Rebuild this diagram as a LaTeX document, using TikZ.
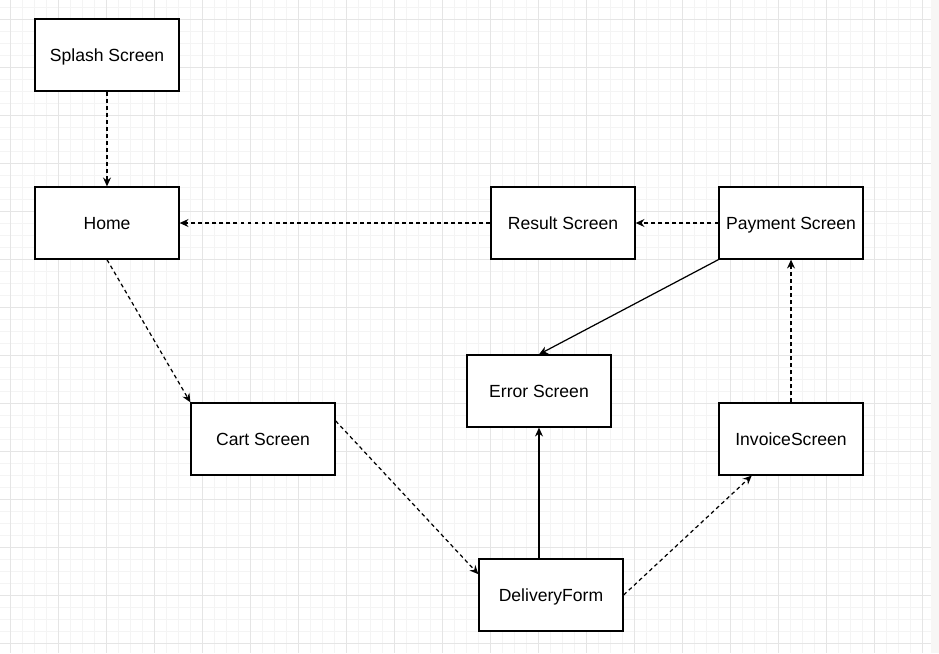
\documentclass[tikz,border=0pt]{standalone}
\usepackage{fontspec}
\setmainfont{Liberation Sans}
\usetikzlibrary{arrows.meta}
\definecolor{gridmin}{HTML}{F4F4F4}
\definecolor{gridmaj}{HTML}{E5E5E5}
\definecolor{sidebar}{HTML}{F7F6F5}
\tikzset{
    BX/.style ={rectangle,minimum width = 2.88cm, minimum height = 1.44cm, inner sep=0pt, text height=7.2pt, text depth=0pt, draw, line width=0.75pt, fill=white, font=\fontsize{10}{12}\selectfont},
    DA/.style ={line width=0.7pt, dash pattern=on 2.2pt off 1.8pt, -{Stealth[length=5pt,width=4.5pt]}},
    SA/.style ={line width=0.7pt, -{Stealth[length=5pt,width=4.5pt]}}
}
\begin{document}
\begin{tikzpicture}[x=0.02cm,y=-0.02cm]
        \useasboundingbox (0,0) rectangle (939,653);
        \fill[white] (0,0) rectangle (931,653);
        \fill[sidebar] (931,0) rectangle (939,653);
        % grid
        \foreach \k in {0,...,76} \draw[gridmin,line width=0.4pt] ({10.7+12*\k},0) -- ({10.7+12*\k},653);
        \foreach \k in {0,...,53} \draw[gridmin,line width=0.4pt] (0,{7+12*\k}) -- (931,{7+12*\k});
        \foreach \k in {0,...,19} \draw[gridmaj,line width=0.5pt] ({10.7+48*\k},0) -- ({10.7+48*\k},653);
        \foreach \k in {0,...,13} \draw[gridmaj,line width=0.5pt] (0,{19+48*\k}) -- (931,{19+48*\k});
        % screens
        \node[BX] (splash) at (107,55) {Splash Screen};
        \node[BX] (home) at (107,223) {Home};
        \node[BX] (result) at (563,223) {Result Screen};
        \node[BX] (payment) at (791,223) {Payment Screen};
        \node[BX] (error) at (539,391) {Error Screen};
        \node[BX] (cart) at (263,439) {Cart Screen};
        \node[BX] (invoice) at (791,439) {InvoiceScreen};
        \node[BX] (delivery) at (551,595) {DeliveryForm};
        % flow
        \draw[DA] (splash) -- (home);
        \draw[DA] (home.south) -- (cart.north west);
        \draw[DA] (cart.14) -- (delivery.164);
        \draw[DA] (delivery.east) -- (invoice.223);
        \draw[DA] (invoice) -- (payment);
        \draw[DA] (payment) -- (result);
        \draw[DA] (result) -- (home);
        \draw[SA] (payment.south west) -- (error.north);
        \draw[SA] (error.south |- delivery.north) -- (error.south);
    \end{tikzpicture}
\end{document}
